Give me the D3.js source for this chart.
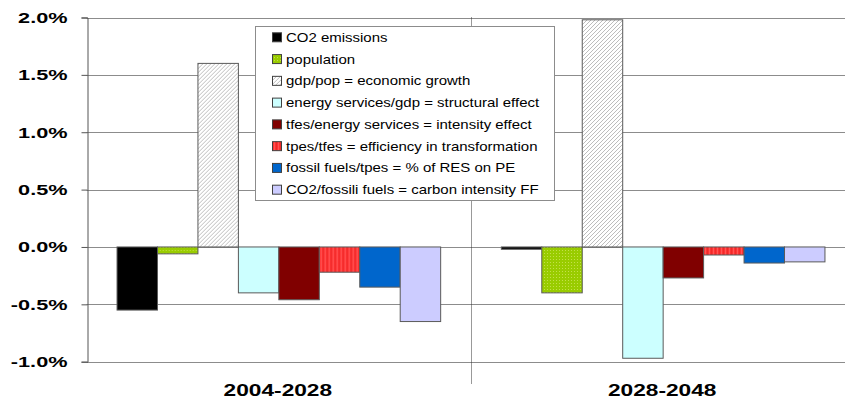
<!DOCTYPE html>
<html>
<head>
<meta charset="utf-8">
<script src="https://cdn.jsdelivr.net/npm/d3@7"></script>
<style>
  html, body { margin: 0; padding: 0; background: #fff; }
  svg { display: block; font-family: "Liberation Sans", Arial, sans-serif; }
</style>
</head>
<body>
<svg id="chart" width="845" height="401"></svg>
<script>
// Periods on the category axis
const periods = ["2004-2028", "2028-2048"];

// Decomposition factors (legend order)
const factors = [
  "CO2 emissions",
  "population",
  "gdp/pop = economic growth",
  "energy services/gdp = structural effect",
  "tfes/energy services = intensity effect",
  "tpes/tfes = efficiency in transformation",
  "fossil fuels/tpes = % of RES on PE",
  "CO2/fossili fuels = carbon intensity FF"
];

// Average annual change, % per year, one value per factor
const values2004_2028 = [-0.55, -0.06, 1.60, -0.40, -0.46, -0.22, -0.35, -0.65];
const values2028_2048 = [-0.02, -0.40, 1.98, -0.97, -0.27, -0.07, -0.14, -0.13];

// Y axis ticks (%)
const yTicks = [-1.0, -0.5, 0.0, 0.5, 1.0, 1.5, 2.0];

const fills = ["#000000", "url(#pDots)", "url(#pHatch)", "#CCFFFF",
               "#800000", "url(#pStripes)", "#0066CC", "#CCCCFF"];

const data = periods.map((p, i) => ({
  period: p,
  values: [values2004_2028, values2028_2048][i]
}));

const svg = d3.select("#chart");
const defs = svg.append("defs");

// Diagonal hatch for economic growth
const hatch = defs.append("pattern").attr("id", "pHatch")
  .attr("patternUnits", "userSpaceOnUse").attr("width", 4).attr("height", 4);
hatch.append("rect").attr("width", 4).attr("height", 4).attr("fill", "#fff");
hatch.append("path").attr("d", "M-1,1 l2,-2 M0,4 l4,-4 M3,5 l2,-2")
  .attr("stroke", "#bdbdbd").attr("stroke-width", 1);

// Dotted green for population
const dots = defs.append("pattern").attr("id", "pDots")
  .attr("patternUnits", "userSpaceOnUse").attr("width", 3).attr("height", 3);
dots.append("rect").attr("width", 3).attr("height", 3).attr("fill", "#99CC00");
dots.append("rect").attr("x", 1).attr("y", 1).attr("width", 1).attr("height", 1).attr("fill", "#c4e04a");

// Vertical stripes for transformation efficiency
const stripes = defs.append("pattern").attr("id", "pStripes")
  .attr("patternUnits", "userSpaceOnUse").attr("width", 4).attr("height", 4);
stripes.append("rect").attr("width", 4).attr("height", 4).attr("fill", "#FF3333");
stripes.append("rect").attr("x", 2).attr("width", 1).attr("height", 4).attr("fill", "#ff5555");
stripes.append("rect").attr("x", 0).attr("width", 1).attr("height", 4).attr("fill", "#ee2a2a");

// Scales
const plotLeft = 86.7, catStep = 384.3;
const x0 = d3.scaleBand().domain(periods)
  .range([plotLeft, plotLeft + catStep * periods.length]).padding(0);
const x1 = d3.scaleBand().domain(d3.range(factors.length))
  .range([0, x0.bandwidth()]).paddingInner(0).paddingOuter(0.75);
const y = d3.scaleLinear().domain([-1, 2]).range([361.7, 17.5]);

const fmt = d => d.toFixed(1) + "%";

// Gridlines
svg.append("g").selectAll("line").data(yTicks).join("line")
  .attr("x1", plotLeft).attr("x2", 845)
  .attr("y1", d => Math.round(y(d)) + 0.5).attr("y2", d => Math.round(y(d)) + 0.5)
  .attr("stroke", "#8c8c8c").attr("stroke-width", 1);

// Period separator
svg.append("line")
  .attr("x1", Math.round(x0(periods[1])) + 0.5).attr("x2", Math.round(x0(periods[1])) + 0.5)
  .attr("y1", y(2)).attr("y2", 384)
  .attr("stroke", "#333").attr("stroke-width", 1).attr("stroke-dasharray", "1,1");

// Y axis
const yAxis = d3.axisLeft(y).tickValues(yTicks).tickFormat(fmt).tickSize(6).tickPadding(14);
const gy = svg.append("g")
  .attr("transform", `translate(${Math.round(plotLeft) + 0.5},0)`)
  .call(yAxis);
gy.select(".domain").attr("stroke", "#555");
gy.selectAll(".tick line").attr("stroke", "#555");
gy.selectAll(".tick text")
  .attr("font-family", "Liberation Sans, Arial, sans-serif")
  .attr("font-size", 15.5).attr("font-weight", "bold").attr("fill", "#000")
  .each(function () {
    const t = d3.select(this);
    const xx = +t.attr("x");
    t.attr("transform", `translate(${xx},0) scale(1.4,1)`).attr("x", 0);
  });

// Bars
const groups = svg.append("g").selectAll("g").data(data).join("g")
  .attr("transform", d => `translate(${x0(d.period)},0)`);

groups.selectAll("rect")
  .data(d => d.values.map((v, i) => ({ v, i })))
  .join("rect")
  .attr("x", d => x1(d.i))
  .attr("width", x1.bandwidth())
  .attr("y", d => y(Math.max(0, d.v)))
  .attr("height", d => Math.abs(y(d.v) - y(0)))
  .attr("fill", d => fills[d.i])
  .attr("stroke", "#5a5a5a").attr("stroke-width", 1);

// Category labels
svg.append("g").selectAll("text").data(periods).join("text")
  .attr("transform", d => `translate(${x0(d) + x0.bandwidth() / 2 - 1},396) scale(1.42,1)`)
  .attr("text-anchor", "middle")
  .attr("font-size", 16).attr("font-weight", "bold").attr("fill", "#000")
  .text(d => d);

// Legend
const lg = svg.append("g");
lg.append("rect").attr("x", 255.5).attr("y", 26.5).attr("width", 299).attr("height", 174)
  .attr("fill", "#fff").attr("stroke", "#8c8c8c").attr("stroke-width", 1);
const items = lg.selectAll("g.item").data(factors).join("g")
  .attr("class", "item")
  .attr("transform", (d, i) => `translate(0,${37.3 + i * 21.77})`);
items.append("rect")
  .attr("x", 272.5).attr("y", -4.5).attr("width", 9).attr("height", 9)
  .attr("fill", (d, i) => fills[i]).attr("stroke", "#404040").attr("stroke-width", 1);
items.append("text")
  .attr("transform", "translate(286,4.5) scale(1.19,1)")
  .attr("font-size", 12.6).attr("fill", "#000")
  .text(d => d);
</script>
</body>
</html>
